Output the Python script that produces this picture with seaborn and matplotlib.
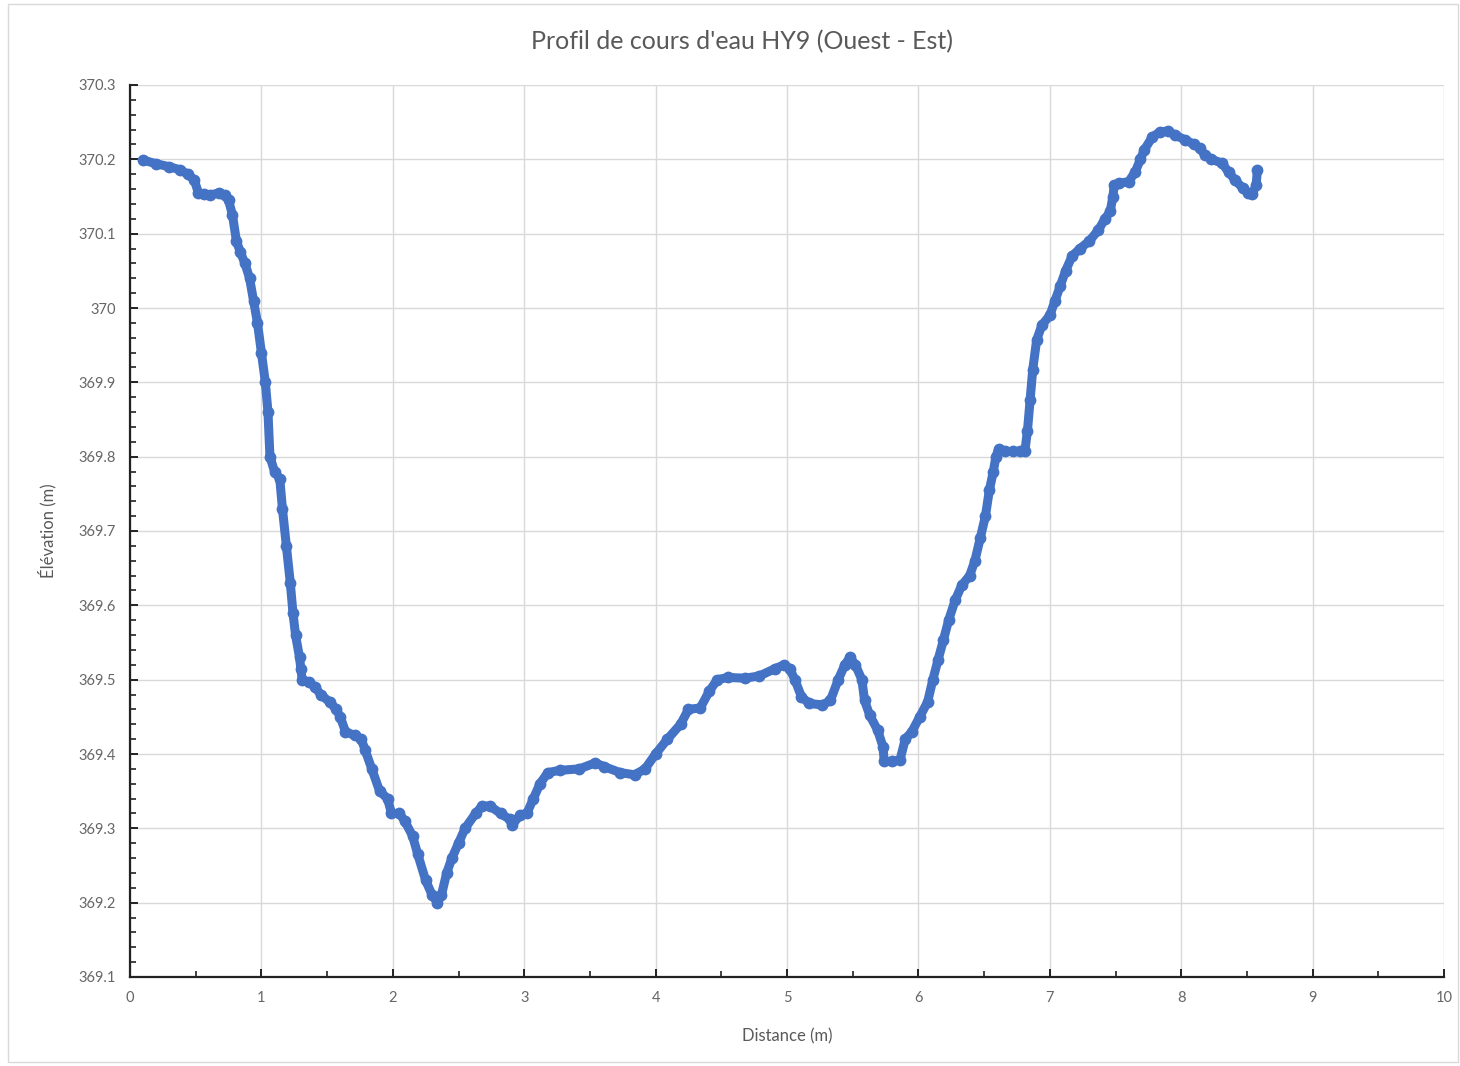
import matplotlib
matplotlib.use("Agg")
import matplotlib.pyplot as plt
import seaborn as sns
import pandas as pd
from matplotlib.ticker import MultipleLocator, FuncFormatter
from matplotlib.patches import Rectangle

# Stream bed profile, west to east
distance_m = [
    0.10, 0.20, 0.30, 0.38, 0.44, 0.49, 0.52, 0.56, 0.61, 0.68, 0.72, 0.75,
    0.78, 0.81, 0.84, 0.875, 0.91, 0.94, 0.97, 1.00, 1.03, 1.05, 1.065, 1.10,
    1.14, 1.16, 1.19, 1.22, 1.24, 1.26, 1.29, 1.30, 1.31, 1.36, 1.41, 1.45,
    1.52, 1.57, 1.60, 1.64, 1.71, 1.76, 1.79, 1.84, 1.90, 1.96, 1.99, 2.05,
    2.09, 2.15, 2.19, 2.25, 2.30, 2.34, 2.37, 2.41, 2.45, 2.50, 2.55, 2.63,
    2.68, 2.74, 2.82, 2.89, 2.91, 2.97, 3.02, 3.07, 3.12, 3.18, 3.27, 3.42,
    3.54, 3.61, 3.73, 3.84, 3.92, 4.00, 4.09, 4.19, 4.25, 4.34, 4.41, 4.47,
    4.55, 4.68, 4.79, 4.91, 4.98, 5.02, 5.06, 5.11, 5.17, 5.27, 5.33, 5.39,
    5.44, 5.48, 5.52, 5.57, 5.59, 5.63, 5.69, 5.73, 5.74, 5.80, 5.86, 5.90,
    5.95, 6.01, 6.07, 6.11, 6.15, 6.19, 6.23, 6.28, 6.33, 6.39, 6.43, 6.47,
    6.51, 6.54, 6.57, 6.59, 6.61, 6.66, 6.72, 6.77, 6.81, 6.83, 6.85, 6.87,
    6.90, 6.94, 7.00, 7.04, 7.08, 7.12, 7.17, 7.23, 7.30, 7.37, 7.42, 7.46,
    7.48, 7.49, 7.53, 7.60, 7.65, 7.69, 7.72, 7.78, 7.84, 7.90, 7.95, 8.03,
    8.10, 8.14, 8.18, 8.23, 8.31, 8.36, 8.41, 8.47, 8.51, 8.54, 8.57, 8.58,
]
elevation_m = [
    370.199, 370.194, 370.190, 370.186, 370.180, 370.172, 370.155, 370.153, 370.152, 370.155, 370.152, 370.145,
    370.125, 370.090, 370.075, 370.060, 370.040, 370.010, 369.980, 369.940, 369.900, 369.860, 369.800, 369.780,
    369.770, 369.730, 369.680, 369.630, 369.590, 369.560, 369.530, 369.515, 369.500, 369.497, 369.490, 369.480,
    369.470, 369.460, 369.450, 369.430, 369.425, 369.420, 369.405, 369.380, 369.350, 369.340, 369.320, 369.320,
    369.310, 369.290, 369.265, 369.230, 369.210, 369.200, 369.210, 369.240, 369.260, 369.280, 369.300, 369.320,
    369.330, 369.330, 369.320, 369.312, 369.305, 369.318, 369.320, 369.340, 369.360, 369.375, 369.378, 369.380,
    369.388, 369.383, 369.375, 369.372, 369.380, 369.400, 369.420, 369.440, 369.460, 369.462, 369.485, 369.500,
    369.503, 369.502, 369.505, 369.515, 369.520, 369.515, 369.500, 369.477, 369.468, 369.466, 369.472, 369.500,
    369.520, 369.530, 369.520, 369.500, 369.472, 369.452, 369.432, 369.410, 369.390, 369.390, 369.392, 369.420,
    369.430, 369.450, 369.470, 369.500, 369.527, 369.553, 369.580, 369.607, 369.627, 369.640, 369.660, 369.690,
    369.720, 369.755, 369.780, 369.800, 369.810, 369.807, 369.807, 369.807, 369.807, 369.835, 369.876, 369.917,
    369.957, 369.977, 369.990, 370.010, 370.030, 370.050, 370.070, 370.080, 370.090, 370.105, 370.120, 370.130,
    370.150, 370.165, 370.168, 370.170, 370.183, 370.200, 370.213, 370.230, 370.237, 370.238, 370.233, 370.226,
    370.220, 370.215, 370.206, 370.200, 370.195, 370.183, 370.172, 370.161, 370.155, 370.153, 370.165, 370.186,
]

title_text = "Profil de cours d'eau HY9 (Ouest - Est)"
x_label = "Distance (m)"
y_label = "Élévation (m)"

profile = pd.DataFrame({"distance": distance_m, "elevation": elevation_m})

sns.set_theme(style="white")
plt.rcParams["font.family"] = ["Lato", "DejaVu Sans"]

fig = plt.figure(figsize=(14.6, 10.66), dpi=100)
ax = fig.add_axes([130 / 1460, 1 - 977 / 1066, (1444 - 130) / 1460, (977 - 85) / 1066])

blue = "#4472C4"
sns.lineplot(
    data=profile, x="distance", y="elevation", ax=ax,
    sort=False, estimator=None, color=blue, linewidth=6.5,
    marker="o", markersize=8.5, markeredgewidth=0, markerfacecolor=blue,
)
for ln in ax.get_lines():
    ln.set_solid_joinstyle("round")
    ln.set_solid_capstyle("round")

ax.set_xlim(0, 10)
ax.set_ylim(369.1, 370.3)
ax.xaxis.set_major_locator(MultipleLocator(1))
ax.xaxis.set_minor_locator(MultipleLocator(0.5))
ax.yaxis.set_major_locator(MultipleLocator(0.1))
ax.yaxis.set_minor_locator(MultipleLocator(0.02))
ax.yaxis.set_major_formatter(FuncFormatter(lambda v, p: f"{round(v, 3):g}"))
ax.xaxis.set_major_formatter(FuncFormatter(lambda v, p: f"{round(v, 3):g}"))

ax.grid(True, which="major", color="#d9d9d9", linewidth=1.0)
ax.set_axisbelow(True)
for side in ("top", "right"):
    ax.spines[side].set_visible(False)
for side in ("left", "bottom"):
    ax.spines[side].set_color("#222222")
    ax.spines[side].set_linewidth(1.6)

ax.tick_params(axis="both", which="major", direction="in", length=6, width=1.4,
               color="#222222", labelsize=10.5, labelcolor="#666666", pad=10)
ax.tick_params(axis="both", which="minor", direction="in", length=4, width=1.2,
               color="#222222")
ax.tick_params(axis="x", which="both", bottom=True)
ax.tick_params(axis="y", which="both", left=True)

ax.set_xlabel(x_label, fontsize=12, color="#595959", labelpad=17)
ax.set_ylabel(y_label, fontsize=12, color="#595959", labelpad=16)
fig.text(0.508, 1 - 42 / 1066, title_text, ha="center", va="center",
         fontsize=18, color="#595959")

# Chart area frame
fig.patches.append(Rectangle((8 / 1460, 4 / 1066), 1450 / 1460, 1058 / 1066,
                             transform=fig.transFigure, fill=False,
                             edgecolor="#d9d9d9", linewidth=1.0))

fig.savefig("out.png", dpi=100, facecolor="white")
